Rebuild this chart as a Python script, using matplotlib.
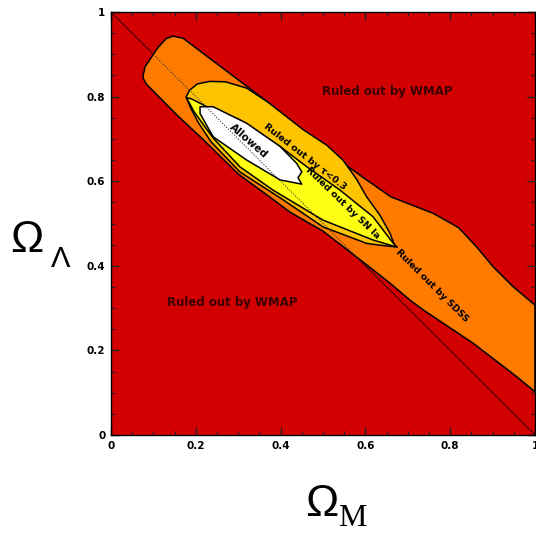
import matplotlib
matplotlib.use('Agg')
import matplotlib.pyplot as plt
from matplotlib.patches import Polygon
from matplotlib.ticker import MultipleLocator

# region outlines (Omega_M, Omega_Lambda)
wmap_x = [0.146, 0.17, 0.236, 0.37, 0.46, 0.524, 0.60, 0.66, 0.76, 0.82, 0.862, 0.901, 0.948, 1.0,
          1.0, 0.958, 0.854, 0.736, 0.705, 0.658, 0.579, 0.5, 0.422, 0.37, 0.30, 0.219, 0.157, 0.083,
          0.075, 0.08, 0.11, 0.13]
wmap_y = [0.943, 0.938, 0.888, 0.787, 0.712, 0.66, 0.605, 0.563, 0.524, 0.49, 0.445, 0.398, 0.351, 0.307,
          0.102, 0.137, 0.217, 0.296, 0.319, 0.359, 0.421, 0.482, 0.527, 0.566, 0.617, 0.697, 0.755, 0.830,
          0.845, 0.87, 0.915, 0.937]

tau_x = [0.177, 0.185, 0.204, 0.233, 0.27, 0.32, 0.370, 0.453, 0.509, 0.547, 0.579, 0.603, 0.634, 0.658, 0.670,
         0.64, 0.603, 0.5, 0.406, 0.304, 0.236, 0.205, 0.189]
tau_y = [0.799, 0.815, 0.830, 0.836, 0.835, 0.82, 0.787, 0.722, 0.685, 0.650, 0.605, 0.563, 0.52, 0.477, 0.445,
         0.448, 0.453, 0.492, 0.556, 0.622, 0.693, 0.74, 0.771]

sn_x = [0.179, 0.189, 0.236, 0.304, 0.399, 0.462, 0.540, 0.618, 0.665, 0.675,
        0.618, 0.5, 0.382, 0.304, 0.241, 0.196, 0.182]
sn_y = [0.797, 0.795, 0.771, 0.745, 0.682, 0.634, 0.579, 0.516, 0.454, 0.444,
        0.461, 0.508, 0.579, 0.634, 0.702, 0.764, 0.79]

ok_x = [0.210, 0.241, 0.320, 0.399, 0.438, 0.450, 0.441, 0.450, 0.399, 0.320, 0.241, 0.210]
ok_y = [0.776, 0.776, 0.737, 0.682, 0.642, 0.622, 0.608, 0.593, 0.603, 0.650, 0.705, 0.760]

flat_x = [0.0, 1.0]
flat_y = [1.0, 0.0]
flat_dot_x = [0.10, 0.63]

tick_vals = [0, 0.2, 0.4, 0.6, 0.8, 1]
tick_text = ['0', '0.2', '0.4', '0.6', '0.8', '1']

red = '#d20000'
orange = '#ff7b00'
gold = '#ffc400'
yellow = '#ffff14'

fig = plt.figure(figsize=(5.36, 5.38), dpi=100)
ax = fig.add_axes([111/536, 1 - 435/538, 424/536, 423/538])
ax.set_facecolor(red)
ax.set_xlim(0, 1)
ax.set_ylim(0, 1)

ax.plot(flat_x, flat_y, color='#3a0000', lw=0.7, zorder=1)

for xs, ys, c, z in [(wmap_x, wmap_y, orange, 2), (tau_x, tau_y, gold, 3),
                     (sn_x, sn_y, yellow, 4), (ok_x, ok_y, 'white', 5)]:
    ax.add_patch(Polygon(list(zip(xs, ys)), closed=True, facecolor=c, edgecolor='black',
                         lw=1.1, joinstyle='round', zorder=z))

ax.plot(flat_dot_x, [1 - v for v in flat_dot_x], color='#333333', lw=0.8, ls=(0, (1, 1.5)), zorder=6)

tk = dict(fontweight='bold', zorder=7, ha='center', va='center')
ax.text(0.651, 0.811, 'Ruled out by WMAP', color='#3a0000', fontsize=8.5, **tk)
ax.text(0.285, 0.314, 'Ruled out by WMAP', color='#3a0000', fontsize=8.5, **tk)
ax.text(0.325, 0.695, 'Allowed', color='black', fontsize=7.5, rotation=-41, **tk)
ax.text(0.458, 0.657, 'Ruled out by \u03c4<0.3', color='black', fontsize=6.8, rotation=-38, **tk)
ax.text(0.547, 0.548, 'Ruled out by SN Ia', color='black', fontsize=6.8, rotation=-44, **tk)
ax.text(0.757, 0.352, 'Ruled out by SDSS', color='black', fontsize=6.8, rotation=-45, **tk)

ax.set_xticks(tick_vals)
ax.set_yticks(tick_vals)
ax.set_xticklabels(tick_text, fontsize=7.5, fontweight='bold')
ax.set_yticklabels(tick_text, fontsize=7.5, fontweight='bold')
ax.xaxis.set_minor_locator(MultipleLocator(0.05))
ax.yaxis.set_minor_locator(MultipleLocator(0.05))
ax.tick_params(which='both', direction='in', top=True, right=True, color='#222222')
ax.tick_params(which='major', length=6, width=1, pad=4)
ax.tick_params(which='minor', length=3, width=0.8)
for s in ax.spines.values():
    s.set_linewidth(1.0)

# big axis labels
fig.text(322/536, 1 - 505/538, '\u03a9', fontsize=32, ha='center', va='center', family='Liberation Sans')
fig.text(352/536, 1 - 518/538, 'M', fontsize=23, ha='center', va='center', family='Liberation Serif')
fig.text(27/536, 1 - 240/538, '\u03a9', fontsize=32, ha='center', va='center', family='Liberation Sans')
fig.text(61/536, 1 - 259/538, '\u039b', fontsize=21, ha='center', va='center', family='Liberation Sans')

fig.savefig('out.png', dpi=100)
